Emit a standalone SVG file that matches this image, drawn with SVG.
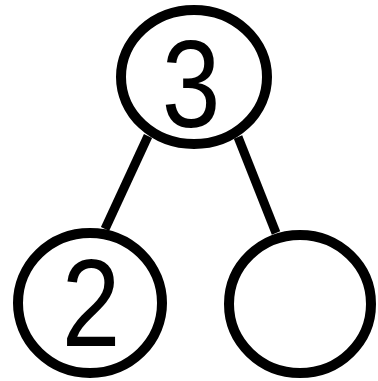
<svg xmlns="http://www.w3.org/2000/svg" width="378" height="381" viewBox="0 0 378 381">
<style>
.n{fill:none;stroke:#000;stroke-width:10}
.e{stroke:#000;stroke-width:9;stroke-linecap:butt}
.t{font-family:"Liberation Sans",Arial,sans-serif;font-size:124px;fill:#000;text-anchor:middle}
</style>
<rect width="378" height="381" fill="#fff"/>
<g id="edges">
<line class="e" x1="148" y1="136" x2="105" y2="229"/>
<line class="e" x1="238" y1="137" x2="276" y2="233"/>
</g>
<g id="n3">
<ellipse class="n" cx="194" cy="77" rx="73" ry="67"/>
<text class="t" transform="translate(191 127) scale(0.85 1)">3</text>
</g>
<g id="n2">
<ellipse class="n" cx="90" cy="303" rx="72" ry="70"/>
<text class="t" transform="translate(91 346) scale(0.85 1)">2</text>
</g>
<g id="nEmpty">
<ellipse class="n" cx="300" cy="304" rx="71" ry="69"/>
</g>
</svg>
